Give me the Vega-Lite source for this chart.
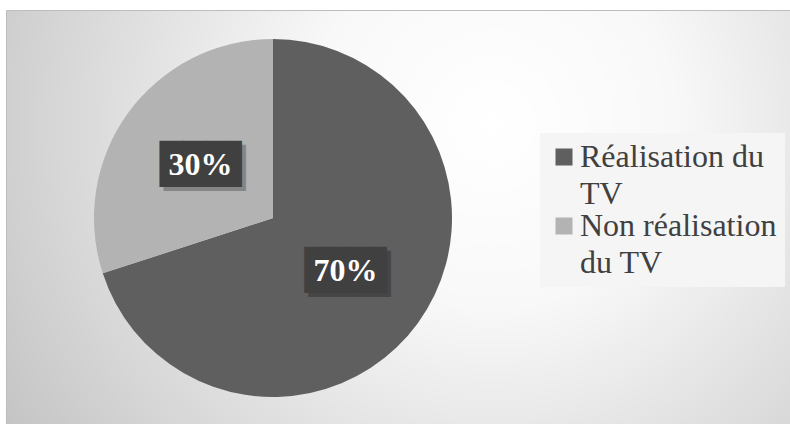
{
  "$schema": "https://vega.github.io/schema/vega-lite/v6.json",
  "width": 784,
  "height": 414,
  "autosize": {"type": "none"},
  "padding": {"left": 6, "top": 10, "right": 0, "bottom": 0},
  "background": "white",
  "view": {
    "fill": {
      "gradient": "radial",
      "x1": 0.62, "y1": 0.38, "r1": 0,
      "x2": 0.62, "y2": 0.38, "r2": 0.78,
      "stops": [
        {"offset": 0, "color": "#ffffff"},
        {"offset": 0.3, "color": "#f8f8f8"},
        {"offset": 1, "color": "#bfbfbf"}
      ]
    },
    "stroke": "#bdbdbd"
  },
  "data": {
    "values": [
      {"categorie": "Réalisation du TV", "part": 70, "etiquette": "70%", "rang": 1},
      {"categorie": "Non réalisation du TV", "part": 30, "etiquette": "30%", "rang": 2}
    ]
  },
  "encoding": {
    "theta": {"field": "part", "type": "quantitative", "stack": true},
    "order": {"field": "rang", "type": "quantitative"}
  },
  "layer": [
    {
      "mark": {"type": "arc", "x": 267, "y": 208, "outerRadius": 179},
      "encoding": {
        "color": {
          "field": "categorie",
          "type": "nominal",
          "scale": {"domain": ["Réalisation du TV", "Non réalisation du TV"], "range": ["#5f5f5f", "#b3b3b3"]},
          "legend": {
            "orient": "none",
            "legendX": 534,
            "legendY": 123,
            "title": null,
            "labelFont": "Liberation Serif",
            "labelFontSize": 32,
            "labelColor": "#404040",
            "labelLimit": 400,
            "labelOffset": 0,
            "symbolType": "square",
            "symbolSize": 289,
            "symbolStrokeWidth": 0,
            "padding": 8,
            "fillColor": "#f5f5f5",
            "rowPadding": 0,
            "labelExpr": "datum.label == 'Réalisation du TV' ? ['Réalisation du', 'TV'] : ['Non réalisation', 'du TV']"
          }
        }
      }
    },
    {
      "mark": {"type": "text", "x": 267, "y": 208, "radius": 89.5, "text": "███▌", "font": "DejaVu Sans Mono", "fontSize": 39, "dx": 10, "dy": 4, "color": "#000000", "opacity": 0.25}
    },
    {
      "mark": {"type": "text", "x": 267, "y": 208, "radius": 89.5, "text": "███▌", "font": "DejaVu Sans Mono", "fontSize": 39, "dx": 6, "color": "#404040"}
    },
    {
      "mark": {"type": "text", "x": 267, "y": 208, "radius": 89.5, "font": "Liberation Serif", "fontSize": 32, "fontWeight": "bold", "color": "#ffffff"},
      "encoding": {"text": {"field": "etiquette", "type": "nominal"}}
    }
  ],
  "config": {
    "style": {"guide-label": {"lineHeight": 37}}
  }
}
